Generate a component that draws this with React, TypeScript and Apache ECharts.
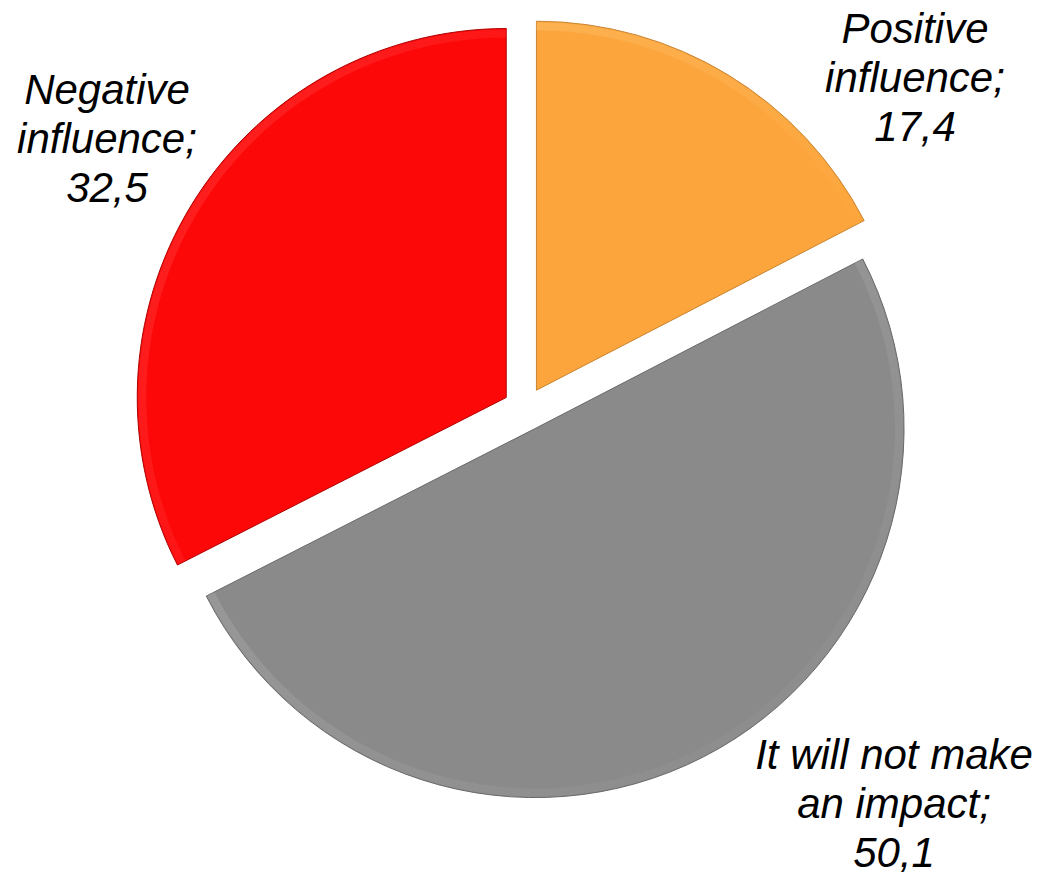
import React, { useEffect, useRef } from "react";
import * as echarts from "echarts";

const categories = ["Positive\ninfluence", "It will not make\nan impact", "Negative\ninfluence"];
const values = [17.4, 50.1, 32.5];
const colors = ["#fca53c", "#8a8a8a", "#fd0808"];
const edgeColors = ["#ffc774", "#c2c2c2", "#ff5a5a"];
const borders = ["#c98430", "#6a6a6a", "#b00000"];
const labelCenters = [
  [915, 77],
  [894, 803],
  [107, 138],
];

export default function App() {
  const ref = useRef<HTMLDivElement>(null);
  useEffect(() => {
    document.body.style.margin = "0";
    const chart = echarts.init(ref.current!, undefined, { renderer: "svg" });
    const data = categories.map((name, i) => ({
      name,
      value: values[i],
      selected: true,
      itemStyle: {
        color: colors[i],
        borderColor: borders[i],
        borderWidth: 1,
      },
    }));
    const labels = categories.map((name, i) => ({
      type: "text",
      x: labelCenters[i][0],
      y: labelCenters[i][1],
      silent: true,
      style: {
        text: `${name};\n${String(values[i]).replace(".", ",")}`,
        fontFamily: "Liberation Sans, Arial, sans-serif",
        fontStyle: "italic",
        fontSize: 42,
        lineHeight: 49,
        fill: "#000000",
        textAlign: "center",
        textVerticalAlign: "middle",
      },
    }));
    chart.setOption({
      animation: false,
      backgroundColor: "#ffffff",
      graphic: labels,
      series: [
        {
          type: "pie",
          center: [525, 409],
          radius: [0, 369],
          startAngle: 90,
          clockwise: true,
          selectedMode: "multiple",
          selectedOffset: 22,
          silent: true,
          emphasis: { disabled: true },
          label: { show: false },
          labelLine: { show: false },
          data,
        },
        {
          type: "pie",
          center: [525, 409],
          radius: [360, 368],
          startAngle: 90,
          clockwise: true,
          selectedMode: "multiple",
          selectedOffset: 22,
          silent: true,
          emphasis: { disabled: true },
          label: { show: false },
          labelLine: { show: false },
          data: categories.map((name, i) => ({
            name,
            value: values[i],
            selected: true,
            itemStyle: {
              color: {
                type: "linear",
                x: 0,
                y: 0,
                x2: 1,
                y2: 1,
                colorStops: [
                  { offset: 0, color: edgeColors[i] },
                  { offset: 1, color: colors[i] },
                ],
              },
              opacity: 0.35,
              borderWidth: 0,
            },
          })),
        },
      ],
    });
    return () => chart.dispose();
  }, []);
  return <div ref={ref} style={{ width: 1039, height: 872 }} />;
}
